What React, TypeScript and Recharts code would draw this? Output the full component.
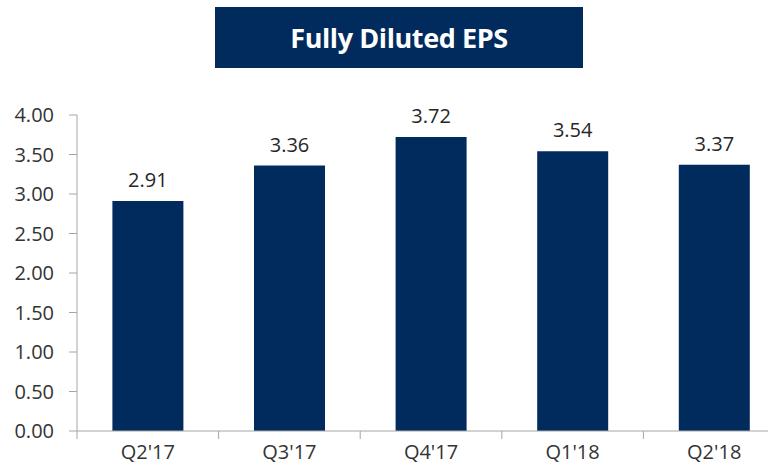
import React from "react";
import { BarChart, Bar, XAxis, YAxis, LabelList } from "recharts";

const categories = ["Q2'17", "Q3'17", "Q4'17", "Q1'18", "Q2'18"];
const epsValues = [2.91, 3.36, 3.72, 3.54, 3.37];
const yTicks = [0, 0.5, 1, 1.5, 2, 2.5, 3, 3.5, 4];
const title = "Fully Diluted EPS";

const data = categories.map((c, i) => ({ name: c, eps: epsValues[i] }));

const NAVY = "#002B5C";
const GRID = "#A6A6A6";
const FONT = "'Open Sans', 'Liberation Sans', sans-serif";

const CategoryTick = (props: any) => {
  const { x, y, payload, index, visibleTicksCount } = props;
  const half = (payload && payload.offset) || 0;
  const isLast = index === visibleTicksCount - 1;
  return (
    <g>
      <line x1={x - half} x2={x - half} y1={y} y2={y + 8} stroke={GRID} />
      {isLast && <line x1={x + half} x2={x + half} y1={y} y2={y + 8} stroke={GRID} />}
      <text
        x={x}
        y={y + 14}
        dy="0.71em"
        textAnchor="middle"
        fill="#333333"
        fontSize={20}
        fontFamily={FONT}
      >
        {payload.value}
      </text>
    </g>
  );
};

export default function App() {
  return (
    <div
      style={{
        position: "absolute",
        left: 0,
        top: 0,
        width: 768,
        height: 466,
        overflow: "hidden",
        background: "#fff",
      }}
    >
      <div
        style={{
          position: "absolute",
          left: 215,
          top: 7,
          width: 368,
          height: 61,
          background: NAVY,
          color: "#fff",
          fontFamily: FONT,
          fontWeight: 700,
          fontSize: 27,
          display: "flex",
          alignItems: "center",
          justifyContent: "center",
          letterSpacing: -0.4,
        }}
      >
        {title}
      </div>
      <BarChart
        width={790}
        height={466}
        data={data}
        margin={{ top: 115, right: 5, left: 0, bottom: 0 }}
        barCategoryGap="25%"
      >
        <XAxis
          dataKey="name"
          height={35}
          tick={<CategoryTick />}
          tickSize={0}
          tickMargin={0}
          axisLine={{ stroke: GRID }}
          tickLine={false}
          interval={0}
        />
        <YAxis
          domain={[0, 4]}
          ticks={yTicks}
          width={77}
          tickFormatter={(v: number) => v.toFixed(2)}
          tick={{ fill: "#333333", fontSize: 20, fontFamily: FONT }}
          tickSize={8}
          tickMargin={15}
          axisLine={{ stroke: GRID }}
          tickLine={{ stroke: GRID }}
          interval={0}
        />
        <Bar dataKey="eps" fill={NAVY} isAnimationActive={false}>
          <LabelList
            dataKey="eps"
            position="top"
            offset={14}
            formatter={(v: number) => v.toFixed(2)}
            style={{ fill: "#262626", fontSize: 20, fontFamily: FONT }}
          />
        </Bar>
      </BarChart>
    </div>
  );
}
